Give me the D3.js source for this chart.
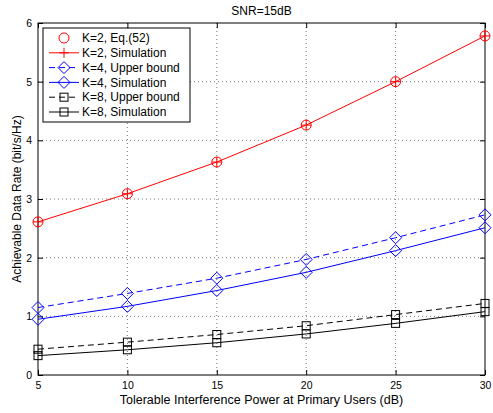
<!DOCTYPE html>
<html>
<head>
<meta charset="utf-8">
<script src="https://cdn.jsdelivr.net/npm/d3@7"></script>
<style>
  body { margin: 0; background: #fff; }
  text { font-family: Arial, "Liberation Sans", sans-serif; fill: #000; }
</style>
</head>
<body>
<svg width="493" height="413"></svg>
<script>
const svg = d3.select('svg')
const width = +svg.attr('width')
const height = +svg.attr('height')
const margin = {left: 38, right: 8, top: 23, bottom: 38}

const xVals = [5, 10, 15, 20, 25, 30]
const xTicks = [5, 10, 15, 20, 25, 30]
const yTicks = [0, 1, 2, 3, 4, 5, 6]

const k2Eq = [2.61, 3.09, 3.63, 4.26, 5.00, 5.78]
const k2Sim = [2.61, 3.09, 3.63, 4.26, 5.00, 5.78]
const k4Upper = [1.15, 1.39, 1.65, 1.97, 2.34, 2.73]
const k4Sim = [0.95, 1.17, 1.44, 1.75, 2.12, 2.51]
const k8Upper = [0.44, 0.56, 0.69, 0.84, 1.03, 1.22]
const k8Sim = [0.33, 0.43, 0.55, 0.70, 0.88, 1.08]

const series = [
  {name: 'K=2, Eq.(52)', values: k2Eq, color: 'red', dash: null, marker: 'circle', line: false},
  {name: 'K=2, Simulation', values: k2Sim, color: 'red', dash: null, marker: 'plus', line: true},
  {name: 'K=4, Upper bound', values: k4Upper, color: 'blue', dash: '6,4', marker: 'diamond', line: true},
  {name: 'K=4, Simulation', values: k4Sim, color: 'blue', dash: null, marker: 'diamond', line: true},
  {name: 'K=8, Upper bound', values: k8Upper, color: 'black', dash: '6,4', marker: 'square', line: true},
  {name: 'K=8, Simulation', values: k8Sim, color: 'black', dash: null, marker: 'square', line: true}
]

const innerWidth = width - margin.left - margin.right
const innerHeight = height - margin.top - margin.bottom

const xScale = d3.scaleLinear().domain([5, 30]).range([0, innerWidth])
const yScale = d3.scaleLinear().domain([0, 6]).range([innerHeight, 0])

const g = svg.append('g').attr('transform', `translate(${margin.left}, ${margin.top})`)

// grid
g.append('g').selectAll('line').data(xTicks.slice(1, -1)).enter().append('line')
  .attr('x1', d => xScale(d)).attr('x2', d => xScale(d))
  .attr('y1', 0).attr('y2', innerHeight)
  .attr('stroke', '#555').attr('stroke-width', 0.8).attr('stroke-dasharray', '1,3')
g.append('g').selectAll('line').data(yTicks.slice(1, -1)).enter().append('line')
  .attr('y1', d => yScale(d)).attr('y2', d => yScale(d))
  .attr('x1', 0).attr('x2', innerWidth)
  .attr('stroke', '#555').attr('stroke-width', 0.8).attr('stroke-dasharray', '1,3')

// axes, ticks inward
const axisStyle = sel => {
  sel.select('.domain').remove()
  sel.selectAll('text').style('font-size', '10.5px').style('font-family', 'Arial, Liberation Sans, sans-serif')
}
g.append('g').attr('transform', `translate(0, ${innerHeight})`)
  .call(d3.axisBottom(xScale).tickValues(xTicks).tickSize(-5).tickPadding(7).tickFormat(d3.format('d')))
  .call(axisStyle)
g.append('g')
  .call(d3.axisTop(xScale).tickValues(xTicks).tickSize(-5))
  .call(sel => { sel.select('.domain').remove(); sel.selectAll('text').remove() })
g.append('g')
  .call(d3.axisLeft(yScale).tickValues(yTicks).tickSize(-5).tickPadding(6).tickFormat(d3.format('d')))
  .call(axisStyle)
g.append('g').attr('transform', `translate(${innerWidth}, 0)`)
  .call(d3.axisRight(yScale).tickValues(yTicks).tickSize(-5))
  .call(sel => { sel.select('.domain').remove(); sel.selectAll('text').remove() })
g.selectAll('.tick line').attr('stroke', '#000')

g.append('rect').attr('width', innerWidth).attr('height', innerHeight)
  .attr('fill', 'none').attr('stroke', '#000').attr('stroke-width', 1)

const drawMarker = (sel, type, color, x, y) => {
  if (type === 'circle') {
    sel.append('circle').attr('cx', x).attr('cy', y).attr('r', 5)
      .attr('fill', 'none').attr('stroke', color).attr('stroke-width', 1)
  } else if (type === 'plus') {
    sel.append('path').attr('d', `M${x - 5},${y}H${x + 5}M${x},${y - 5}V${y + 5}`)
      .attr('stroke', color).attr('stroke-width', 1)
  } else if (type === 'diamond') {
    sel.append('path').attr('d', `M${x},${y - 6}L${x + 6},${y}L${x},${y + 6}L${x - 6},${y}Z`)
      .attr('fill', 'none').attr('stroke', color).attr('stroke-width', 1)
  } else if (type === 'square') {
    sel.append('rect').attr('x', x - 4).attr('y', y - 4).attr('width', 8).attr('height', 8)
      .attr('fill', 'none').attr('stroke', color).attr('stroke-width', 1)
  }
}

const line = d3.line().x((d, i) => xScale(xVals[i])).y(d => yScale(d))

series.forEach(s => {
  if (s.line) {
    g.append('path').datum(s.values).attr('d', line)
      .attr('fill', 'none').attr('stroke', s.color).attr('stroke-width', 1)
      .attr('stroke-dasharray', s.dash)
  }
  const mg = g.append('g')
  s.values.forEach((v, i) => drawMarker(mg, s.marker, s.color, xScale(xVals[i]), yScale(v)))
})

// legend
const lg = g.append('g').attr('transform', 'translate(5, 5)')
lg.append('rect').attr('width', 147).attr('height', 94)
  .attr('fill', '#fff').attr('stroke', '#000').attr('stroke-width', 1)
series.forEach((s, i) => {
  const y = 10 + i * 14.8
  if (s.line) {
    lg.append('line').attr('x1', 6).attr('x2', 36).attr('y1', y).attr('y2', y)
      .attr('stroke', s.color).attr('stroke-width', 1).attr('stroke-dasharray', s.dash)
  }
  drawMarker(lg, s.marker, s.color, 21, y)
  lg.append('text').attr('x', 39).attr('y', y).attr('dy', '0.35em')
    .style('font-size', '12px').text(s.name)
})

// labels
svg.append('text').attr('x', margin.left + innerWidth / 2).attr('y', 15)
  .attr('text-anchor', 'middle').style('font-size', '12px').text('SNR=15dB')
svg.append('text').attr('x', margin.left + innerWidth / 2).attr('y', height - 9)
  .attr('text-anchor', 'middle').style('font-size', '12.5px')
  .text('Tolerable Interference Power at Primary Users (dB)')
svg.append('text')
  .attr('transform', `translate(21, ${margin.top + innerHeight / 2}) rotate(-90)`)
  .attr('text-anchor', 'middle').style('font-size', '12px')
  .text('Achievable Data Rate (bit/s/Hz)')
</script>
</body>
</html>
